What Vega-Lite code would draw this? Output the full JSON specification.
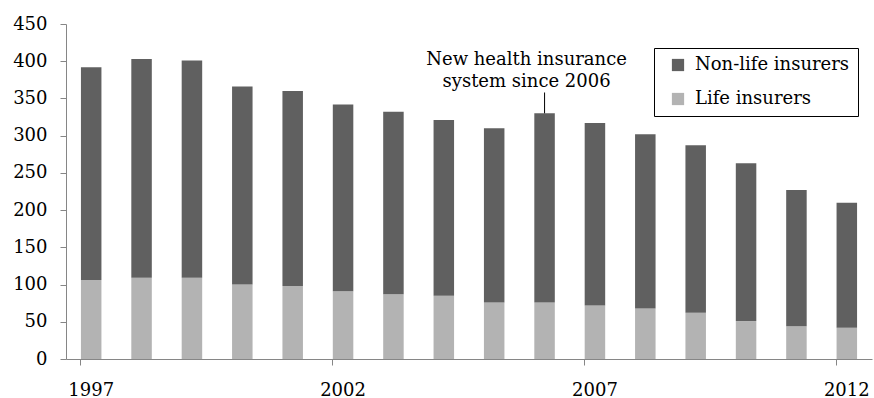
{
  "$schema": "https://vega.github.io/schema/vega-lite/v6.json",
  "width": 806,
  "height": 335,
  "autosize": "none",
  "padding": {"left": 66, "top": 24, "right": 2, "bottom": 39},
  "config": {
    "view": {"stroke": null},
    "font": "DejaVu Serif",
    "axis": {
      "labelFont": "DejaVu Serif",
      "labelFontSize": 18,
      "labelColor": "#000000",
      "domainColor": "#868686",
      "tickColor": "#868686",
      "grid": false,
      "title": null
    }
  },
  "data": {
    "values": [
      {"year": "1997", "type": "Life insurers", "value": 106},
      {"year": "1997", "type": "Non-life insurers", "value": 286},
      {"year": "1998", "type": "Life insurers", "value": 109},
      {"year": "1998", "type": "Non-life insurers", "value": 294},
      {"year": "1999", "type": "Life insurers", "value": 109},
      {"year": "1999", "type": "Non-life insurers", "value": 292},
      {"year": "2000", "type": "Life insurers", "value": 100},
      {"year": "2000", "type": "Non-life insurers", "value": 266},
      {"year": "2001", "type": "Life insurers", "value": 98},
      {"year": "2001", "type": "Non-life insurers", "value": 262},
      {"year": "2002", "type": "Life insurers", "value": 91},
      {"year": "2002", "type": "Non-life insurers", "value": 251},
      {"year": "2003", "type": "Life insurers", "value": 87},
      {"year": "2003", "type": "Non-life insurers", "value": 245},
      {"year": "2004", "type": "Life insurers", "value": 85},
      {"year": "2004", "type": "Non-life insurers", "value": 236},
      {"year": "2005", "type": "Life insurers", "value": 76},
      {"year": "2005", "type": "Non-life insurers", "value": 234},
      {"year": "2006", "type": "Life insurers", "value": 76},
      {"year": "2006", "type": "Non-life insurers", "value": 254},
      {"year": "2007", "type": "Life insurers", "value": 72},
      {"year": "2007", "type": "Non-life insurers", "value": 245},
      {"year": "2008", "type": "Life insurers", "value": 68},
      {"year": "2008", "type": "Non-life insurers", "value": 234},
      {"year": "2009", "type": "Life insurers", "value": 62},
      {"year": "2009", "type": "Non-life insurers", "value": 225},
      {"year": "2010", "type": "Life insurers", "value": 51},
      {"year": "2010", "type": "Non-life insurers", "value": 212},
      {"year": "2011", "type": "Life insurers", "value": 44},
      {"year": "2011", "type": "Non-life insurers", "value": 183},
      {"year": "2012", "type": "Life insurers", "value": 42},
      {"year": "2012", "type": "Non-life insurers", "value": 168}
    ]
  },
  "layer": [
    {
      "mark": {"type": "bar"},
      "encoding": {
        "x": {
          "field": "year",
          "type": "ordinal",
          "scale": {"paddingInner": 0.593, "paddingOuter": 0.2965},
          "axis": {
            "orient": "bottom",
            "values": ["1997", "2002", "2007", "2012"],
            "labelAngle": 0,
            "bandPosition": 0,
            "ticks": true,
            "tickSize": 6,
            "tickWidth": 1,
            "tickColor": "#868686",
            "labelPadding": 16,
            "domain": true
          }
        },
        "y": {
          "field": "value",
          "type": "quantitative",
          "stack": "zero",
          "scale": {"domain": [0, 450], "nice": false},
          "axis": {
            "values": [0, 50, 100, 150, 200, 250, 300, 350, 400, 450],
            "labelOverlap": false,
            "ticks": true,
            "tickSize": 6,
            "tickWidth": 1,
            "tickColor": "#868686",
            "labelPadding": 13
          }
        },
        "order": {"field": "type", "sort": "ascending"},
        "color": {
          "field": "type",
          "type": "nominal",
          "scale": {
            "domain": ["Non-life insurers", "Life insurers"],
            "range": ["#606060", "#b3b3b3"]
          },
          "legend": {
            "orient": "none",
            "legendX": 588,
            "legendY": 24,
            "title": null,
            "symbolType": "square",
            "symbolSize": 150,
            "symbolStrokeWidth": 0,
            "symbolOpacity": 1,
            "symbolOffset": 7,
            "labelFont": "DejaVu Serif",
            "labelFontSize": 18,
            "labelColor": "#000000",
            "labelOffset": 8,
            "rowPadding": 16,
            "padding": 8,
            "strokeColor": "#000000"
          }
        }
      }
    },
    {
      "data": {"values": [{"year": "2006", "top": 330, "end": 358}]},
      "mark": {"type": "rule", "color": "#000000", "strokeWidth": 1},
      "encoding": {
        "x": {"field": "year", "type": "ordinal", "axis": null},
        "y": {"field": "top", "type": "quantitative", "axis": null},
        "y2": {"field": "end"}
      }
    },
    {
      "data": {"values": [{"year": "2006", "end": 358, "note": ["New health insurance", "system since 2006"]}]},
      "mark": {
        "type": "text",
        "font": "DejaVu Serif",
        "fontSize": 18,
        "lineHeight": 22,
        "align": "center",
        "baseline": "bottom",
        "dx": -18,
        "dy": -23,
        "color": "#000000"
      },
      "encoding": {
        "x": {"field": "year", "type": "ordinal", "axis": null},
        "y": {"field": "end", "type": "quantitative", "axis": null},
        "text": {"field": "note"}
      }
    }
  ],
  "resolve": {"axis": {"x": "independent", "y": "independent"}}
}
